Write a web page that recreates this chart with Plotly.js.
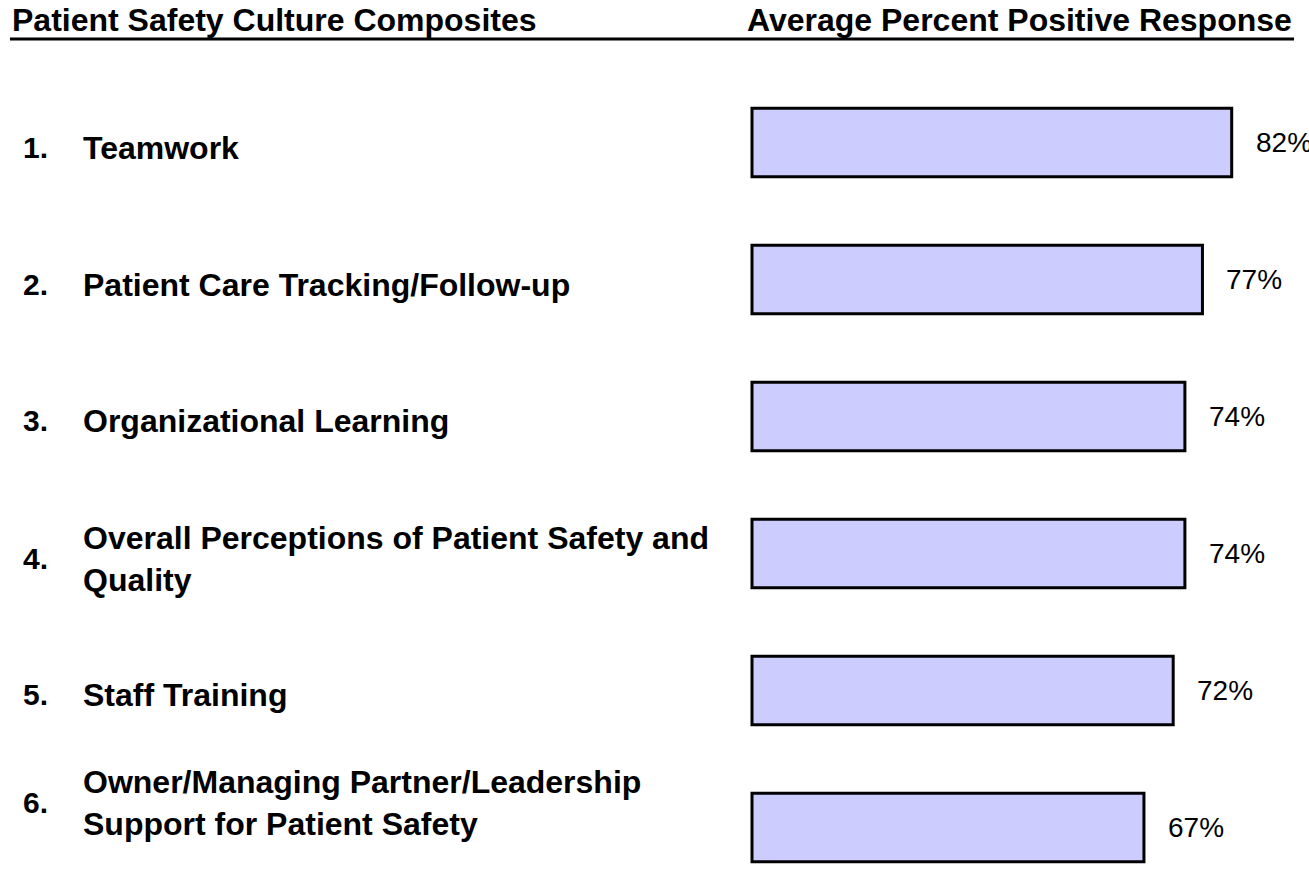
<!DOCTYPE html>
<html>
<head>
<meta charset="utf-8">
<script src="https://cdn.plot.ly/plotly-3.0.1.min.js"></script>
<style>html,body{margin:0;padding:0;background:#fff;}#chart{width:1309px;height:870px;}</style>
</head>
<body>
<div id="chart"></div>
<script>
// ---- data ----
const numbers = ["1.", "2.", "3.", "4.", "5.", "6."];
const categories = [
  "Teamwork",
  "Patient Care Tracking/Follow-up",
  "Organizational Learning",
  "Overall Perceptions of Patient Safety and<br>Quality",
  "Staff Training",
  "Owner/Managing Partner/Leadership<br>Support for Patient Safety"
];
const values = [82, 77, 74, 74, 72, 67];
const headerLeft = "Patient Safety Culture Composites";
const headerRight = "Average Percent Positive Response";

// ---- layout helpers ----
const W = 1309, H = 870;
const FONT = "Liberation Sans, Arial, sans-serif";
const pxX = 5.85;            // px per percent
const x0 = 752;              // pixel of 0%
const pxY = 137;             // px per category
const y0 = 142.5;            // pixel of first category centre
const labelShift = [-5, -5, -4, -5, -4, 25];

const idx = categories.map((_, i) => i);

const trace = {
  type: "bar",
  orientation: "h",
  x: values,
  y: idx,
  width: 0.5,
  marker: {color: "#ccccff", line: {color: "#000000", width: 3}},
  hoverinfo: "skip"
};

const annotations = [];
idx.forEach(i => {
  const yPaper = 1 - (y0 + i * pxY - labelShift[i]) / H;
  annotations.push({
    xref: "paper", yref: "paper", x: 21 / W, y: yPaper,
    xanchor: "left", yanchor: "middle", showarrow: false,
    text: "<b>" + numbers[i] + "</b>", font: {family: FONT, size: 30, color: "#000"}
  });
  annotations.push({
    xref: "paper", yref: "paper", x: 81 / W, y: yPaper,
    xanchor: "left", yanchor: "middle", align: "left", showarrow: false,
    text: "<b>" + categories[i] + "</b>", font: {family: FONT, size: 32, color: "#000"}
  });
  annotations.push({
    xref: "x", yref: "y", x: values[i], y: i, xshift: 22,
    xanchor: "left", yanchor: "middle", showarrow: false,
    text: values[i] + "%", font: {family: FONT, size: 28, color: "#000"}
  });
});
annotations.push({
  xref: "paper", yref: "paper", x: 10 / W, y: 1 - 20 / H,
  xanchor: "left", yanchor: "middle", showarrow: false,
  text: "<b>" + headerLeft + "</b>", font: {family: FONT, size: 32, color: "#000"}
});
annotations.push({
  xref: "paper", yref: "paper", x: 1294 / W, y: 1 - 20 / H,
  xanchor: "right", yanchor: "middle", showarrow: false,
  text: "<b>" + headerRight + "</b>", font: {family: FONT, size: 32, color: "#000"}
});

const layout = {
  width: W, height: H,
  margin: {l: 0, r: 0, t: 0, b: 0},
  paper_bgcolor: "#fff", plot_bgcolor: "#fff",
  showlegend: false,
  xaxis: {visible: false, range: [-x0 / pxX, (W - x0) / pxX], fixedrange: true},
  yaxis: {visible: false, range: [(H - y0) / pxY, -y0 / pxY], fixedrange: true},
  annotations: annotations,
  shapes: [{
    type: "line", xref: "paper", yref: "paper",
    x0: 10 / W, x1: 1294 / W, y0: 1 - 39 / H, y1: 1 - 39 / H,
    line: {color: "#000", width: 3}
  }]
};

Plotly.newPlot("chart", [trace], layout, {displayModeBar: false, staticPlot: true});
</script>
</body>
</html>
